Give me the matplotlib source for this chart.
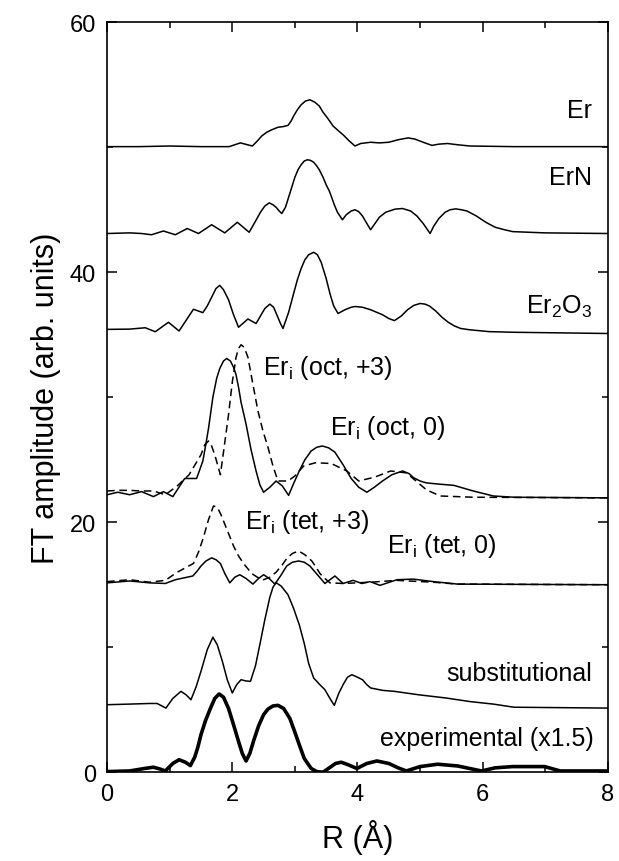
import matplotlib
matplotlib.use("Agg")
import matplotlib.pyplot as plt

plt.rcParams['font.family'] = ['Liberation Sans', 'DejaVu Sans']
plt.rcParams['mathtext.fontset'] = 'custom'
plt.rcParams['mathtext.rm'] = 'Liberation Sans'

# curves (R in Angstrom, amplitude incl. vertical offset)
er_x = [0, 0.5, 1.0, 1.5, 1.95, 2.13, 2.32, 2.4, 2.47, 2.55, 2.63, 2.73, 2.81, 2.89, 2.94, 2.98,
        3.04, 3.1, 3.17, 3.24, 3.32, 3.39, 3.45, 3.52, 3.61, 3.7, 3.77, 3.87, 3.96, 4.05, 4.21,
        4.35, 4.5, 4.65, 4.81, 4.92, 5.05, 5.19, 5.3, 5.44, 5.6, 5.8, 6.5, 8.0]
er_y = [50.05, 50.05, 50.1, 50.05, 50.05, 50.35, 50.1, 50.5, 50.9, 51.2, 51.4, 51.6, 51.65, 51.75, 52.1, 52.5,
        53.0, 53.4, 53.7, 53.8, 53.6, 53.3, 52.8, 52.35, 51.7, 51.3, 51.0, 50.5, 50.1, 50.3, 50.4,
        50.35, 50.4, 50.6, 50.75, 50.65, 50.4, 50.15, 50.25, 50.3, 50.2, 50.1, 50.05, 50.05]

ern_x = [0, 0.36, 0.55, 0.71, 0.9, 1.09, 1.28, 1.46, 1.67, 1.88, 2.08, 2.27, 2.35, 2.45, 2.52,
         2.59, 2.65, 2.70, 2.75, 2.79, 2.85, 2.9, 2.95, 3.0, 3.05, 3.1, 3.15, 3.2, 3.25, 3.3,
         3.35, 3.39, 3.45, 3.5, 3.55, 3.58, 3.63, 3.68, 3.76, 3.82, 3.9, 3.96, 4.02, 4.08, 4.15,
         4.21, 4.28, 4.35, 4.45, 4.6, 4.72, 4.85, 4.95, 5.05, 5.16, 5.22, 5.3, 5.4, 5.48, 5.57,
         5.66, 5.75, 5.9, 6.05, 6.2, 6.35, 6.48, 7.0, 8.0]
ern_y = [43.1, 43.15, 43.1, 43.0, 43.3, 43.0, 43.5, 43.1, 43.8, 43.15, 44.0, 43.2, 43.9, 44.8, 45.3,
         45.55, 45.4, 45.2, 44.9, 44.7, 45.2, 46.0, 46.8, 47.6, 48.2, 48.6, 48.9, 49.0, 48.95, 48.8,
         48.5, 48.2, 47.6, 47.0, 46.5, 46.1, 45.4, 44.8, 44.2, 44.6, 44.9, 45.0, 44.85, 44.5, 43.9,
         43.4, 43.9, 44.4, 44.8, 45.05, 45.1, 44.9, 44.5, 43.9, 43.1, 43.7, 44.3, 44.8, 45.0, 45.07,
         45.0, 44.9, 44.5, 44.0, 43.6, 43.4, 43.25, 43.15, 43.1]

ero_x = [0, 0.36, 0.61, 0.77, 0.98, 1.15, 1.38, 1.53, 1.6, 1.67, 1.74, 1.80, 1.86, 1.94, 2.02,
         2.1, 2.25, 2.38, 2.45, 2.52, 2.6, 2.66, 2.72, 2.77, 2.81, 2.9, 2.98, 3.04, 3.1, 3.16,
         3.22, 3.3, 3.36, 3.42, 3.5, 3.56, 3.62, 3.69, 3.8, 3.9, 3.96, 4.08, 4.21, 4.4, 4.5,
         4.59, 4.7, 4.8, 4.9, 5.0, 5.08, 5.15, 5.25, 5.35, 5.45, 5.55, 5.65, 5.79, 6.1, 6.48, 8.0]
ero_y = [35.43, 35.45, 35.56, 35.24, 36.0, 35.3, 37.04, 36.77, 37.3, 38.0, 38.7, 38.95, 38.6, 37.8, 36.6,
         35.6, 36.26, 35.9, 36.5, 37.1, 37.45, 37.2, 36.5, 35.9, 35.5, 36.8, 38.3, 39.4, 40.3, 41.0,
         41.4, 41.6, 41.4, 40.8, 39.5, 38.3, 37.3, 36.7, 37.0, 37.2, 37.26, 37.2, 37.0, 36.6, 36.3,
         36.13, 36.5, 37.0, 37.35, 37.5, 37.45, 37.3, 36.9, 36.4, 36.0, 35.7, 35.5, 35.4, 35.25, 35.2, 35.1]

oct0_x = [0, 0.17, 0.36, 0.55, 0.74, 0.9, 1.05, 1.24, 1.43, 1.53, 1.58, 1.62, 1.69, 1.75, 1.8,
          1.86, 1.91, 1.97, 2.02, 2.06, 2.1, 2.14, 2.22, 2.3, 2.38, 2.44, 2.5, 2.6, 2.7, 2.8,
          2.9, 2.98, 3.07, 3.16, 3.26, 3.35, 3.44, 3.54, 3.64, 3.77, 3.9, 4.02, 4.15, 4.27, 4.4,
          4.55, 4.72, 4.82, 4.9, 5.0, 5.1, 5.3, 5.54, 5.85, 6.17, 6.5, 8.0]
oct0_y = [22.2, 22.4, 22.2, 22.45, 22.05, 22.45, 22.05, 23.5, 23.5, 24.9, 26.3, 27.5, 30.0, 31.5, 32.3,
          32.9, 33.1, 32.9, 32.4, 31.8, 30.8, 29.6, 27.85, 25.8, 24.1, 23.0, 22.4, 22.8, 23.3, 22.9,
          22.15, 23.1, 24.1, 25.0, 25.7, 26.0, 26.1, 25.95, 25.6, 24.6, 23.5, 22.8, 22.4, 22.8, 23.3,
          23.8, 24.1, 23.9, 23.55, 23.3, 23.15, 23.05, 22.95, 22.5, 22.1, 22.0, 21.95]

oct3_x = [0, 0.17, 0.36, 0.55, 0.74, 0.93, 1.12, 1.31, 1.50, 1.56, 1.62, 1.67, 1.72, 1.81, 1.87,
          1.94, 2.0, 2.06, 2.1, 2.14, 2.19, 2.25, 2.32, 2.41, 2.49, 2.57, 2.65, 2.73, 2.89, 3.0,
          3.14, 3.33, 3.58, 3.83, 4.02, 4.27, 4.53, 4.78, 5.1, 5.32, 5.85, 8.0]
oct3_y = [22.5, 22.55, 22.55, 22.5, 22.5, 22.2, 22.9, 23.8, 25.4, 26.2, 26.5, 26.1, 25.4, 23.8, 26.0,
          28.6, 31.2, 33.2, 33.9, 34.2, 34.0, 33.2, 31.3, 28.9, 27.3, 26.0, 24.5, 23.3, 23.3, 23.7,
          24.5, 24.76, 24.7, 24.1, 23.3, 23.6, 24.1, 23.95, 22.6, 22.1, 22.0, 21.95]

tet0_x = [0, 0.36, 0.68, 0.93, 1.09, 1.37, 1.44, 1.5, 1.58, 1.67, 1.74, 1.81, 1.88, 1.96, 2.04,
          2.12, 2.22, 2.33, 2.42, 2.5, 2.59, 2.68, 2.77, 2.87, 2.96, 3.06, 3.15, 3.24, 3.36, 3.48,
          3.64, 3.77, 3.93, 4.07, 4.2, 4.36, 4.63, 4.89, 5.21, 5.6, 8.0]
tet0_y = [15.15, 15.3, 15.15, 15.1, 15.4, 15.7, 16.1, 16.5, 16.9, 17.15, 17.0, 16.7, 15.9, 15.15, 15.6,
          15.8, 15.5, 15.05, 15.5, 15.8, 15.5, 15.05, 15.7, 16.5, 16.8, 16.9, 16.8, 16.5, 15.8, 15.1,
          15.7, 15.1, 15.35, 15.1, 15.25, 14.95, 15.4, 15.45, 15.25, 15.05, 15.0]

tet3_x = [0, 0.36, 0.68, 0.93, 1.12, 1.38, 1.46, 1.54, 1.62, 1.70, 1.76, 1.82, 1.9, 2.02, 2.1,
          2.18, 2.31, 2.4, 2.5, 2.6, 2.7, 2.8, 2.87, 2.96, 3.06, 3.16, 3.27, 3.34, 3.4, 3.48,
          3.56, 3.77, 4.2, 4.63, 5.21, 5.6, 8.0]
tet3_y = [15.25, 15.4, 15.2, 15.35, 16.0, 16.7, 17.6, 18.8, 20.2, 21.3, 21.2, 20.6, 19.6, 18.1, 17.3,
          16.7, 15.9, 15.6, 15.4, 15.6, 16.0, 16.6, 17.1, 17.5, 17.7, 17.4, 16.9, 16.4, 15.9, 15.5,
          15.15, 15.1, 15.2, 15.35, 15.2, 15.05, 15.0]

sub_x = [0, 0.36, 0.68, 0.8, 0.94, 1.05, 1.18, 1.26, 1.34, 1.42, 1.5, 1.6, 1.69, 1.76, 1.84,
         1.92, 2.0, 2.07, 2.14, 2.22, 2.29, 2.37, 2.44, 2.52, 2.6, 2.65, 2.7, 2.78, 2.89, 2.98,
         3.07, 3.15, 3.22, 3.3, 3.4, 3.48, 3.56, 3.63, 3.7, 3.77, 3.84, 3.91, 4.0, 4.08, 4.15,
         4.21, 4.4, 4.59, 4.97, 5.41, 5.8, 6.17, 6.5, 8.0]
sub_y = [5.4, 5.45, 5.5, 5.5, 5.13, 5.9, 6.47, 6.2, 5.8, 6.8, 8.07, 9.8, 10.8, 10.2, 8.9,
         7.4, 6.34, 7.0, 7.4, 7.3, 7.27, 8.5, 10.2, 12.2, 14.0, 14.8, 15.16, 14.9, 14.2, 13.1,
         11.8, 10.3, 8.7, 7.54, 7.0, 6.6, 5.9, 5.35, 6.3, 7.0, 7.6, 7.8, 7.6, 7.4, 7.0,
         6.74, 6.55, 6.47, 6.2, 5.94, 5.65, 5.45, 5.2, 5.13]

exp_x = [0, 0.36, 0.6, 0.74, 0.85, 0.93, 1.05, 1.15, 1.25, 1.33, 1.4, 1.45, 1.5, 1.57, 1.65,
         1.72, 1.79, 1.86, 1.94, 2.02, 2.1, 2.16, 2.22, 2.28, 2.34, 2.42, 2.5, 2.57, 2.65, 2.73,
         2.82, 2.92, 3.0, 3.07, 3.15, 3.26, 3.35, 3.45, 3.55, 3.65, 3.74, 3.85, 3.99, 4.15, 4.31,
         4.5, 4.65, 4.78, 5.0, 5.28, 5.6, 5.98, 6.2, 6.48, 6.99, 7.24, 8.0]
exp_y = [0.05, 0.1, 0.3, 0.4, 0.25, 0.1, 0.7, 1.0, 0.8, 0.53, 1.2, 2.0, 3.0, 4.1, 5.1,
         5.9, 6.26, 6.0, 5.1, 3.8, 2.46, 1.5, 0.9, 1.5, 2.5, 3.7, 4.6, 5.05, 5.3, 5.35,
         5.1, 4.3, 3.2, 2.2, 1.1, 0.3, 0.05, 0.0, 0.35, 0.7, 0.8, 0.6, 0.3, 0.7, 0.9,
         0.7, 0.35, 0.1, 0.45, 0.64, 0.5, 0.1, 0.35, 0.45, 0.45, 0.1, 0.1]

fig = plt.figure(figsize=(6.19, 8.62), dpi=100)
ax = fig.add_axes([0.173, 0.103, 0.809, 0.870])

lw = 1.1
ax.plot(er_x, er_y, color='black', lw=lw)
ax.plot(ern_x, ern_y, color='black', lw=lw)
ax.plot(ero_x, ero_y, color='black', lw=lw)
ax.plot(oct3_x, oct3_y, color='black', lw=lw, dashes=(5, 3))
ax.plot(oct0_x, oct0_y, color='black', lw=lw)
ax.plot(tet3_x, tet3_y, color='black', lw=lw, dashes=(5, 3))
ax.plot(tet0_x, tet0_y, color='black', lw=lw)
ax.plot(sub_x, sub_y, color='black', lw=lw)
ax.plot(exp_x, exp_y, color='black', lw=2.6)

fs = 18
ax.text(7.75, 53.0, 'Er', fontsize=fs, ha='right', va='center')
ax.text(7.75, 47.6, 'ErN', fontsize=fs, ha='right', va='center')
ax.text(7.75, 37.3, r'Er$_2$O$_3$', fontsize=fs, ha='right', va='center')
ax.text(2.49, 32.4, r'Er$_\mathrm{i}$ (oct, +3)', fontsize=fs, ha='left', va='center')
ax.text(3.56, 27.6, r'Er$_\mathrm{i}$ (oct, 0)', fontsize=fs, ha='left', va='center')
ax.text(2.2, 20.1, r'Er$_\mathrm{i}$ (tet, +3)', fontsize=fs, ha='left', va='center')
ax.text(4.47, 18.2, r'Er$_\mathrm{i}$ (tet, 0)', fontsize=fs, ha='left', va='center')
ax.text(7.75, 7.9, 'substitutional', fontsize=fs, ha='right', va='center')
ax.text(7.78, 2.7, 'experimental (x1.5)', fontsize=fs, ha='right', va='center')

ax.set_xlim(0, 8)
ax.set_ylim(0, 60)
ax.set_xticks([0, 2, 4, 6, 8])
ax.set_xticks([1, 3, 5, 7], minor=True)
ax.set_yticks([0, 20, 40, 60])
ax.set_yticks([10, 30, 50], minor=True)
ax.tick_params(which='both', direction='in', top=True, right=True, labelsize=17, width=1.1)
ax.tick_params(which='major', length=7, pad=8)
ax.tick_params(which='minor', length=4.5)
for s in ax.spines.values():
    s.set_linewidth(1.2)

ax.set_xlabel('R (Å)', fontsize=22, labelpad=10)
ax.set_ylabel('FT amplitude (arb. units)', fontsize=22, labelpad=6)

fig.savefig('out.png', dpi=100)
